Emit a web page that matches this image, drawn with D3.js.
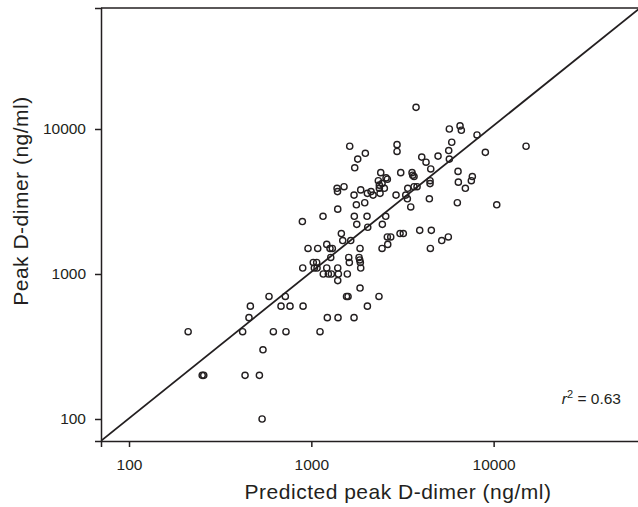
<!DOCTYPE html>
<html>
<head>
    <title>Peak D-dimer</title>
    <script type="text/javascript" src="https://d3js.org/d3.v7.min.js"></script>
    <style>
	body {
		margin: 0;
		background: #fff;
	}
	svg text {
		font-family: "Liberation Sans", Arial, sans-serif;
		fill: #231f20;
	}
	.titles {
		font-size: 21px;
		letter-spacing: 0.5px;
	}
	circle {
		fill: none;
		stroke: #231f20;
		stroke-width: 1.4;
	}
	.domain, .tick line {
		stroke: #231f20;
		stroke-width: 1.5;
	}
    </style>
</head>
<body>
<script>

	// --------------------------- data --------------------------------
	// predicted peak D-dimer (x) and observed peak D-dimer (y), ng/ml
	var predicted = [
		211, 252, 257, 433, 519, 537, 543, 420, 619, 726, 1116, 455, 463, 586, 720, 682, 764, 901, 897, 1025, 1070, 1039, 1075, 959, 1084,
		1560, 1590, 1850, 2350, 2030, 1224, 1401, 1715, 1396,
		3066, 3196, 2726, 3931, 4552, 5642, 5192, 4497, 2915, 3295, 3363, 3510, 4440, 6323, 10400, 6996,
		1392, 1384, 1715, 2029, 2126, 2181, 2382, 1766, 1963, 1396, 1159, 893, 1721, 2021, 1775, 2559, 2452, 2039, 1461, 1487, 1645,
		1215, 1266, 1304, 2612, 2625, 2443, 1850, 1278, 1604, 1827, 1843, 1616, 1857, 1215, 1396, 1866, 1163, 1240, 1288, 1407, 1576,
		1624, 1797, 1978, 1730, 2952, 2952, 3093, 2403, 2331, 2569, 2612, 2361, 2443, 2361, 2515, 1511, 1866,
		3753, 5715, 6542, 6650, 8107, 5891, 5670, 9005, 15060, 4955, 4033, 4258, 5715, 4519, 3568, 3599, 3659, 4479, 4479, 6378,
		7641, 7545, 6403, 3659, 3801, 3380
	];
	var observed = [
		400, 200, 200, 200, 200, 100, 300, 400, 400, 400, 400, 500, 600, 700, 700, 600, 600, 600, 1100, 1200, 1200, 1100, 1100, 1500, 1500,
		700, 700, 800, 700, 600, 500, 500, 500, 900,
		1900, 1900, 1800, 2000, 2000, 1800, 1700, 1500, 3500, 3500, 3300, 2900, 3300, 3100, 3000, 3900,
		3700, 3900, 3500, 3600, 3700, 3500, 3600, 3000, 3100, 2800, 2500, 2300, 2500, 2500, 2200, 2500, 2200, 2100, 1900, 1700, 1700,
		1600, 1500, 1500, 1800, 1600, 1500, 1500, 1300, 1300, 1300, 1250, 1200, 1200, 1100, 1100, 1100, 1000, 1000, 1000, 1000, 1000,
		7600, 6200, 6800, 5400, 7800, 7000, 5000, 5000, 4400, 4600, 4500, 4100, 4200, 3900, 3900, 4000, 3800,
		14100, 10000, 10500, 9800, 9100, 8100, 7100, 6900, 7600, 6500, 6400, 5900, 6200, 5300, 5000, 4800, 4700, 4400, 4200, 5100,
		4700, 4400, 4300, 4000, 4000, 3900
	];
	// line of identity, drawn corner to corner
	var lineX = [70, 63500];
	var lineY = [70.5, 68300];

	var xTicks = [100, 1000, 10000];
	var yTicks = [100, 1000, 10000];
	var xTitle = "Predicted peak D-dimer (ng/ml)";
	var yTitle = "Peak D-dimer (ng/ml)";

	var dataset = predicted.map(function (d, i){ return { x: d, y: observed[i] }; });

	// create the svg canvas
	var svgCanvas = d3.select("body").append("svg")
		.attr( "width", 638 )
		.attr( "height", 507 );

	var plotLeft = 101, plotRight = 640, plotTop = 8, plotBottom = 441;

	var xScale = d3.scaleLog().domain( [70.2, 63500] ).range( [plotLeft, plotRight] );
	var yScale = d3.scaleLog().domain( [70.5, 68300] ).range( [plotBottom, plotTop] );

	var xAxis = d3.axisBottom( xScale ).tickValues( xTicks ).tickFormat( d3.format("d") )
		.tickSizeOuter(0).tickSize(6).tickPadding(12);
	var yAxis = d3.axisLeft( yScale ).tickValues( yTicks ).tickFormat( d3.format("d") )
		.tickSizeOuter(0).tickSize(6).tickPadding(9);

	// top frame line
	svgCanvas.append("line")
		.attr("x1", plotLeft).attr("x2", plotRight).attr("y1", plotTop).attr("y2", plotTop)
		.attr("stroke", "#231f20").attr("stroke-width", 1.5);

	// x-axis
	svgCanvas.append("g").attr("transform", "translate(0," + plotBottom + ")")
		.call(xAxis)
		.attr("font-size", "15.5px");
	// y-axis
	svgCanvas.append("g").attr("transform", "translate(" + plotLeft + ",0)")
		.call(yAxis)
		.attr("font-size", "15.5px");

	// clip for the diagonal
	svgCanvas.append("clipPath").attr("id", "plotclip")
		.append("rect").attr("x", plotLeft).attr("y", plotTop)
		.attr("width", plotRight - plotLeft).attr("height", plotBottom - plotTop);

	var plotArea = svgCanvas.append("g").attr("clip-path", "url(#plotclip)");

	plotArea.append("path")
		.datum( lineX.map(function (d, i){ return [d, lineY[i]]; }) )
		.attr("d", d3.line().x(function (d){ return xScale(d[0]); }).y(function (d){ return yScale(d[1]); }))
		.attr("fill", "none")
		.attr("stroke", "#231f20")
		.attr("stroke-width", 1.8);

	plotArea.selectAll("circle").data( dataset )
		.enter().append("circle")
		.attr("cx", function (d){ return xScale(d.x); })
		.attr("cy", function (d){ return yScale(d.y); })
		.attr("r", 3.1);

	// r squared
	var rText = svgCanvas.append("text")
		.attr("x", 621).attr("y", 403.5)
		.attr("text-anchor", "end")
		.style("font-size", "15.5px");
	rText.append("tspan").style("font-style", "italic").text("r");
	rText.append("tspan").attr("dy", -6).style("font-size", "11px").text("2");
	rText.append("tspan").attr("dy", 6).text(" = 0.63");

	// axis titles
	svgCanvas.append("text").attr("class", "titles")
		.attr("x", 398).attr("y", 499)
		.attr("text-anchor", "middle")
		.text(xTitle);
	svgCanvas.append("text").attr("class", "titles")
		.attr("transform", "translate(28,201) rotate(-90)")
		.attr("text-anchor", "middle")
		.text(yTitle);

</script>
</body>
</html>
